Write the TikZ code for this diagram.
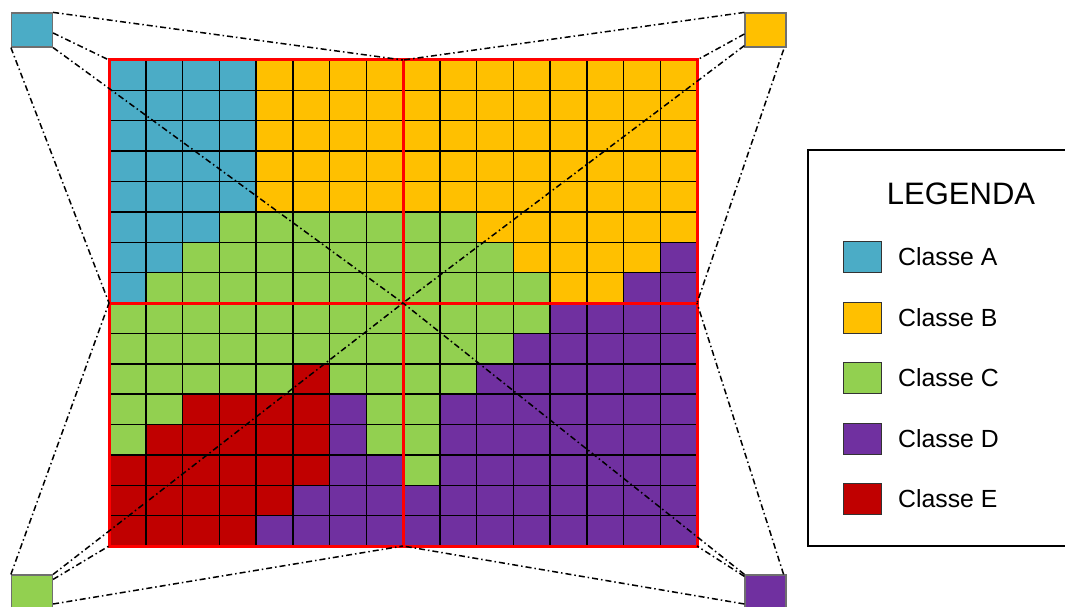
\documentclass[tikz,border=0pt]{standalone}
\usepackage{fontspec}
\setmainfont{Liberation Sans}
\usetikzlibrary{calc}
\definecolor{cA}{HTML}{4BACC6}
\definecolor{cB}{HTML}{FFC000}
\definecolor{cC}{HTML}{92D050}
\definecolor{cD}{HTML}{7030A0}
\definecolor{cE}{HTML}{C00000}
\definecolor{sqborder}{HTML}{6F6F6F}
\begin{document}
\begin{tikzpicture}[x=1pt,y=-1pt,
  cornersq/.style={draw=sqborder,line width=1.2pt,minimum width=41pt,minimum height=34pt,inner sep=0pt},
  legsq/.style={draw=black!80,line width=1pt,minimum width=38pt,minimum height=31pt,inner sep=0pt},
  legtxt/.style={anchor=west,inner sep=0pt,font=\fontsize{24.8}{28}\selectfont},
  dashdotline/.style={line width=1.5pt,black,dash pattern={on 6pt off 3pt on 1.5pt off 3pt}},
  gridline/.style={line width=1.5pt,black},
  redline/.style={line width=3pt,red}]
\useasboundingbox (0,0) rectangle (1065,607);
\def\cw{36.75}
\def\ch{30.375}
% cells
\foreach \row [count=\r from 0] in {
  {A,A,A,A,B,B,B,B,B,B,B,B,B,B,B,B},
  {A,A,A,A,B,B,B,B,B,B,B,B,B,B,B,B},
  {A,A,A,A,B,B,B,B,B,B,B,B,B,B,B,B},
  {A,A,A,A,B,B,B,B,B,B,B,B,B,B,B,B},
  {A,A,A,A,B,B,B,B,B,B,B,B,B,B,B,B},
  {A,A,A,C,C,C,C,C,C,C,B,B,B,B,B,B},
  {A,A,C,C,C,C,C,C,C,C,C,B,B,B,B,D},
  {A,C,C,C,C,C,C,C,C,C,C,C,B,B,D,D},
  {C,C,C,C,C,C,C,C,C,C,C,C,D,D,D,D},
  {C,C,C,C,C,C,C,C,C,C,C,D,D,D,D,D},
  {C,C,C,C,C,E,C,C,C,C,D,D,D,D,D,D},
  {C,C,E,E,E,E,D,C,C,D,D,D,D,D,D,D},
  {C,E,E,E,E,E,D,C,C,D,D,D,D,D,D,D},
  {E,E,E,E,E,E,D,D,C,D,D,D,D,D,D,D},
  {E,E,E,E,E,D,D,D,D,D,D,D,D,D,D,D},
  {E,E,E,E,D,D,D,D,D,D,D,D,D,D,D,D}} {
  \foreach \c [count=\k from 0] in \row {
    \fill[c\c] ({109+\k*\cw},{60+\r*\ch}) rectangle +(\cw,\ch);
  }
}
% grid lines
\foreach \k in {1,...,15} {
  \draw[gridline] ({109+\k*\cw},60) -- ({109+\k*\cw},546);
  \draw[gridline] (109,{60+\k*\ch}) -- (697,{60+\k*\ch});
}
% grid anchor coordinates
\coordinate (Gtl) at (109,60);
\coordinate (Gtc) at (403,60);
\coordinate (Gtr) at (697,60);
\coordinate (Gml) at (109,303);
\coordinate (Gc)  at (403,303);
\coordinate (Gmr) at (697,303);
\coordinate (Gbl) at (109,546);
\coordinate (Gbc) at (403,546);
\coordinate (Gbr) at (697,546);
% red frame
\draw[redline] (Gtl) rectangle (Gbr);
\draw[redline] (Gtc) -- (Gbc);
\draw[redline] (Gml) -- (Gmr);
% corner squares
\node[cornersq,fill=cA] (tl) at (32,30) {};
\node[cornersq,fill=cB] (tr) at (765.5,30) {};
\node[cornersq,fill=cC] (bl) at (32,592) {};
\node[cornersq,fill=cD] (br) at (765.5,592) {};
% dash-dot connectors
\draw[dashdotline] (tl.north east) -- (Gtc);
\draw[dashdotline] ($(tl.east)+(0,3)$) -- (Gtl);
\draw[dashdotline] (tl.south east) -- (Gc);
\draw[dashdotline] (tl.south west) -- (Gml);
\draw[dashdotline] (tr.north west) -- (Gtc);
\draw[dashdotline] ($(tr.west)+(0,4)$) -- (Gtr);
\draw[dashdotline] ($(tr.south west)+(0,-2)$) -- (Gc);
\draw[dashdotline] ($(tr.south east)+(-3,2)$) -- (Gmr);
\draw[dashdotline] (bl.north west) -- (Gml);
\draw[dashdotline] (bl.north east) -- (Gc);
\draw[dashdotline] ($(bl.north east)+(0,5)$) -- (Gbl);
\draw[dashdotline] ($(bl.east)+(0,12)$) -- (Gbc);
\draw[dashdotline] (br.north west) -- (Gc);
\draw[dashdotline] ($(br.north west)+(0,2)$) -- (Gbr);
\draw[dashdotline] ($(br.north east)+(-3,0)$) -- (Gmr);
\draw[dashdotline] ($(br.west)+(0,12)$) -- (Gbc);
% legend
\draw[line width=2.5pt,black] (808,150) rectangle (1075,546);
\node[inner sep=0pt,font=\fontsize{31}{36}\selectfont] (title) at (961,193.5) {LEGENDA};
\foreach \L/\y/\nm in {A/257/Classe A,B/318/Classe B,C/378/Classe C,D/439/Classe D,E/499/Classe E} {
  \node[legsq,fill=c\L] (sq\L) at (862,\y) {};
  \node[legtxt] (lab\L) at (898,\y) {\nm};
}
\end{tikzpicture}
\end{document}
